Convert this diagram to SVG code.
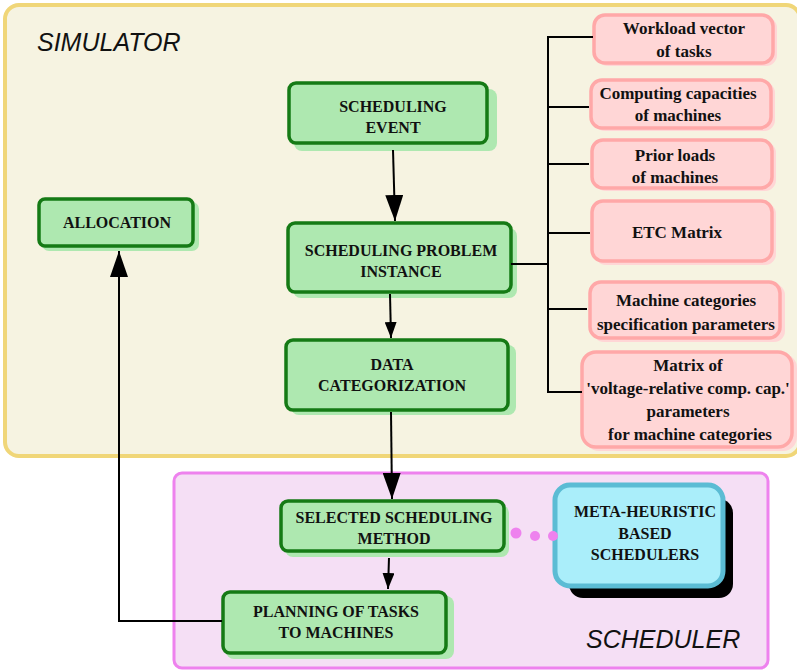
<svg xmlns="http://www.w3.org/2000/svg" width="797" height="672" viewBox="0 0 797 672">
<style>
.g{fill:#aee8b0;stroke:#157a15;stroke-width:3.5}
.gs{fill:#aee8b0}
.p{fill:#ffd6d6;stroke:#ffa8a8;stroke-width:3.5}
.ps{fill:#ffd6d6}
.t{font-family:"Liberation Serif",serif;font-weight:bold;font-size:16px;fill:#111;text-anchor:middle}
.tp{font-family:"Liberation Serif",serif;font-weight:bold;font-size:17px;fill:#111;text-anchor:middle}
.lbl{font-family:"Liberation Sans",sans-serif;font-style:italic;font-size:25px;fill:#111}
.c{stroke:#000;stroke-width:2;fill:none}
.dot{fill:#ee82ee}
</style>
<defs>
<marker id="ahL" viewBox="0 0 10 10" refX="10" refY="5" markerWidth="26" markerHeight="18" markerUnits="userSpaceOnUse" orient="auto" preserveAspectRatio="none"><path d="M0,0L10,5L0,10z" fill="#000"/></marker>
<marker id="ahM" viewBox="0 0 10 10" refX="10" refY="5" markerWidth="16" markerHeight="12" markerUnits="userSpaceOnUse" orient="auto" preserveAspectRatio="none"><path d="M0,0L10,5L0,10z" fill="#000"/></marker>
</defs>
<g id="simulator">
<rect x="5" y="5" width="795" height="451" rx="14" fill="#f6f3e1" stroke="#f0d678" stroke-width="4"/>
<text class="lbl" x="37" y="51">SIMULATOR</text>
</g>
<g id="scheduler">
<rect x="174" y="473" width="594" height="195" rx="8" fill="#f5dff5" stroke="#ee82ee" stroke-width="3"/>
<text class="lbl" x="586" y="648">SCHEDULER</text>
</g>
<g id="scheduling-event">
<rect class="gs" x="294" y="89" width="203" height="62" rx="8"/>
<rect class="g" x="289" y="83" width="198" height="60" rx="7"/>
<text class="t" x="393" y="112">SCHEDULING</text>
<text class="t" x="393" y="133">EVENT</text>
</g>
<g id="scheduling-problem-instance">
<rect class="gs" x="293" y="228" width="224" height="70" rx="8"/>
<rect class="g" x="288" y="223" width="223" height="69" rx="7"/>
<text class="t" x="401" y="256">SCHEDULING PROBLEM</text>
<text class="t" x="401" y="277">INSTANCE</text>
</g>
<g id="data-categorization">
<rect class="gs" x="291" y="345" width="225" height="70" rx="8"/>
<rect class="g" x="286" y="340" width="222" height="70" rx="7"/>
<text class="t" x="392" y="370">DATA</text>
<text class="t" x="392" y="391">CATEGORIZATION</text>
</g>
<g id="allocation">
<rect class="gs" x="42" y="202" width="157" height="49" rx="7"/>
<rect class="g" x="39" y="199" width="154" height="47" rx="6"/>
<text class="t" x="117" y="228">ALLOCATION</text>
</g>
<g id="selected-scheduling-method">
<rect class="gs" x="285" y="505" width="224" height="52" rx="8"/>
<rect class="g" x="281" y="501" width="223" height="50" rx="7"/>
<text class="t" x="394" y="523">SELECTED SCHEDULING</text>
<text class="t" x="394" y="544">METHOD</text>
</g>
<g id="planning">
<rect class="gs" x="226" y="596" width="228" height="63" rx="8"/>
<rect class="g" x="223" y="592" width="223" height="61" rx="7"/>
<text class="t" x="336" y="617">PLANNING OF TASKS</text>
<text class="t" x="336" y="638">TO MACHINES</text>
</g>
<g id="meta-heuristic">
<rect x="569" y="499" width="164" height="99" rx="14" fill="#000"/>
<rect x="555" y="485" width="168" height="101" rx="15" fill="#aaeefa" stroke="#5bbcd4" stroke-width="5"/>
<text class="t" x="645" y="517">META-HEURISTIC</text>
<text class="t" x="645" y="539">BASED</text>
<text class="t" x="645" y="560">SCHEDULERS</text>
</g>
<g id="workload">
<rect class="ps" x="597" y="17" width="180" height="49" rx="11"/>
<rect class="p" x="594" y="15" width="179" height="48" rx="11"/>
<text class="tp" x="684" y="34">Workload vector</text>
<text class="tp" x="684" y="57">of tasks</text>
</g>
<g id="computing">
<rect class="ps" x="594" y="82" width="181" height="49" rx="11"/>
<rect class="p" x="591" y="80" width="180" height="48" rx="11"/>
<text class="tp" x="678" y="99">Computing capacities</text>
<text class="tp" x="678" y="121">of machines</text>
</g>
<g id="prior-loads">
<rect class="ps" x="595" y="142" width="181" height="49" rx="11"/>
<rect class="p" x="592" y="140" width="180" height="48" rx="11"/>
<text class="tp" x="675" y="161">Prior loads</text>
<text class="tp" x="675" y="183">of machines</text>
</g>
<g id="etc-matrix">
<rect class="ps" x="595" y="203" width="181" height="62" rx="11"/>
<rect class="p" x="592" y="201" width="180" height="60" rx="11"/>
<text class="tp" x="677" y="238">ETC Matrix</text>
</g>
<g id="machine-categories">
<rect class="ps" x="593" y="284" width="192" height="58" rx="11"/>
<rect class="p" x="590" y="282" width="190" height="56" rx="11"/>
<text class="tp" x="686" y="306">Machine categories</text>
<text class="tp" x="686" y="330">specification parameters</text>
</g>
<g id="voltage-matrix">
<rect class="ps" x="585" y="354" width="212" height="97" rx="14"/>
<rect class="p" x="582" y="352" width="210" height="95" rx="14"/>
<text class="tp" x="688" y="371">Matrix  of</text>
<text class="tp" x="688" y="394">'voltage-relative comp. cap.'</text>
<text class="tp" x="688" y="417">parameters</text>
<text class="tp" x="690" y="440">for machine categories</text>
</g>
<g id="connectors">
<line class="c" x1="393" y1="150" x2="395" y2="221" marker-end="url(#ahL)"/>
<line class="c" x1="390" y1="294" x2="391" y2="338" marker-end="url(#ahM)"/>
<line class="c" x1="391" y1="412" x2="392" y2="499" marker-end="url(#ahL)"/>
<line class="c" x1="389" y1="558" x2="388" y2="589" marker-end="url(#ahM)"/>
<polyline class="c" points="222,621 119,621 119,251" stroke-width="2.5" marker-end="url(#ahL)"/>
<polyline class="c" points="511,264 548,264" stroke-width="2.5"/>
<line class="c" x1="548" y1="37" x2="548" y2="392" stroke-width="2.5"/>
<line class="c" x1="547" y1="37" x2="593" y2="37" stroke-width="2.5"/>
<line class="c" x1="547" y1="107" x2="589" y2="107" stroke-width="2.5"/>
<line class="c" x1="547" y1="164" x2="589" y2="164" stroke-width="2.5"/>
<line class="c" x1="547" y1="233" x2="590" y2="233" stroke-width="2.5"/>
<line class="c" x1="547" y1="309" x2="587" y2="309" stroke-width="2.5"/>
<line class="c" x1="547" y1="392" x2="582" y2="392" stroke-width="2.5"/>
<circle class="dot" cx="516" cy="533" r="5.5"/>
<circle class="dot" cx="535" cy="536" r="5"/>
<circle class="dot" cx="553" cy="536" r="5"/>
</g>
</svg>
